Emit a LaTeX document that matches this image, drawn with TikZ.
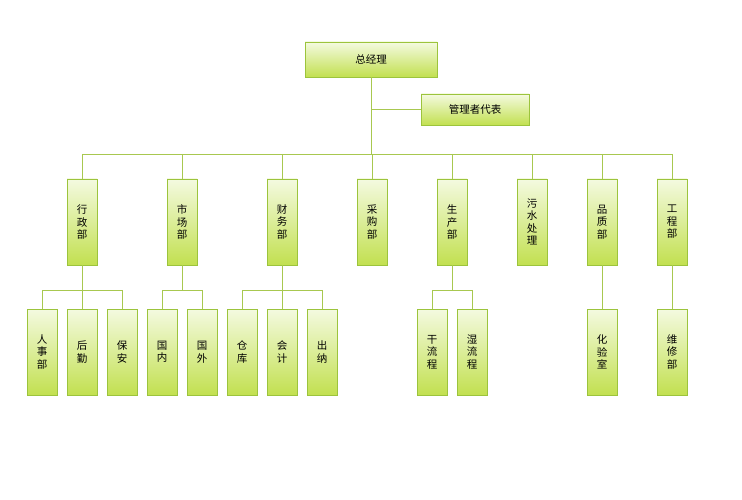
\documentclass[tikz,border=0pt]{standalone}
\usepackage{fontspec}
\setmainfont{Noto Sans CJK SC}
\definecolor{boxline}{HTML}{9CC43C}
\definecolor{boxtop}{HTML}{F4FAE0}
\definecolor{boxbot}{HTML}{C2E050}
\definecolor{wire}{HTML}{A8C850}
\tikzset{
  orgbox/.style={draw=boxline,top color=boxtop,bottom color=boxbot,
    inner sep=0pt,font=\fontsize{10.5}{12.5}\selectfont,align=center},
  wide/.style={orgbox,minimum height=35,minimum width=132},
  tall/.style={orgbox,minimum height=86,minimum width=30},
  wire/.style={draw=wire,line width=0.8pt}
}
\begin{document}
\begin{tikzpicture}[x=1pt,y=-1pt]
          \useasboundingbox (0,0) rectangle (742,500);
          \node[wide] (gm) at (371,59.5) {总经理};
          \node[wide,minimum width=108,minimum height=31] (rep) at (475,109.5) {管理者代表};
          % departments
          \foreach \x/\n/\t in {82/xz/行\\政\\部,182/sc/市\\场\\部,282/cw/财\\务\\部,
            372/cg/采\\购\\部,452/sp/生\\产\\部,532/ws/污\\水\\处\\理,
            602/pz/品\\质\\部,672/gc/工\\程\\部}
            \node[tall] (\n) at (\x,222) {\t};
          % sections
          \foreach \x/\n/\t in {42/rs/人\\事\\部,82/hq/后\\勤,122/ba/保\\安,
            162/gn/国\\内,202/gw/国\\外,242/ck/仓\\库,282/kj/会\\计,
            322/cn/出\\纳,432/gl/干\\流\\程,472/sl/湿\\流\\程,
            602/hy/化\\验\\室,672/wx/维\\修\\部}
            \node[tall] (\n) at (\x,352) {\t};
          \coordinate (bus) at (372,154);
          \draw[wire] (gm.south) -- (gm.south |- bus);
          \draw[wire] (gm.south |- rep) -- (rep.west);
          \draw[wire] (xz.north |- bus) -- (gc.north |- bus);
          \foreach \n in {xz,sc,cw,cg,sp,ws,pz,gc}
            \draw[wire] (\n.north |- bus) -- (\n.north);
          % sub buses
          \foreach \p/\a/\b/\l in {xz/rs/ba/{rs,hq,ba},sc/gn/gw/{gn,gw},
            cw/ck/cn/{ck,kj,cn},sp/gl/sl/{gl,sl}}{
            \draw[wire] (\p.south) -- ++(0,25) coordinate (j\p);
            \draw[wire] (\a.north |- j\p) -- (\b.north |- j\p);
            \foreach \c in \l
              \draw[wire] (\c.north |- j\p) -- (\c.north);
          }
          \draw[wire] (pz.south) -- (hy.north);
          \draw[wire] (gc.south) -- (wx.north);
        \end{tikzpicture}
\end{document}
